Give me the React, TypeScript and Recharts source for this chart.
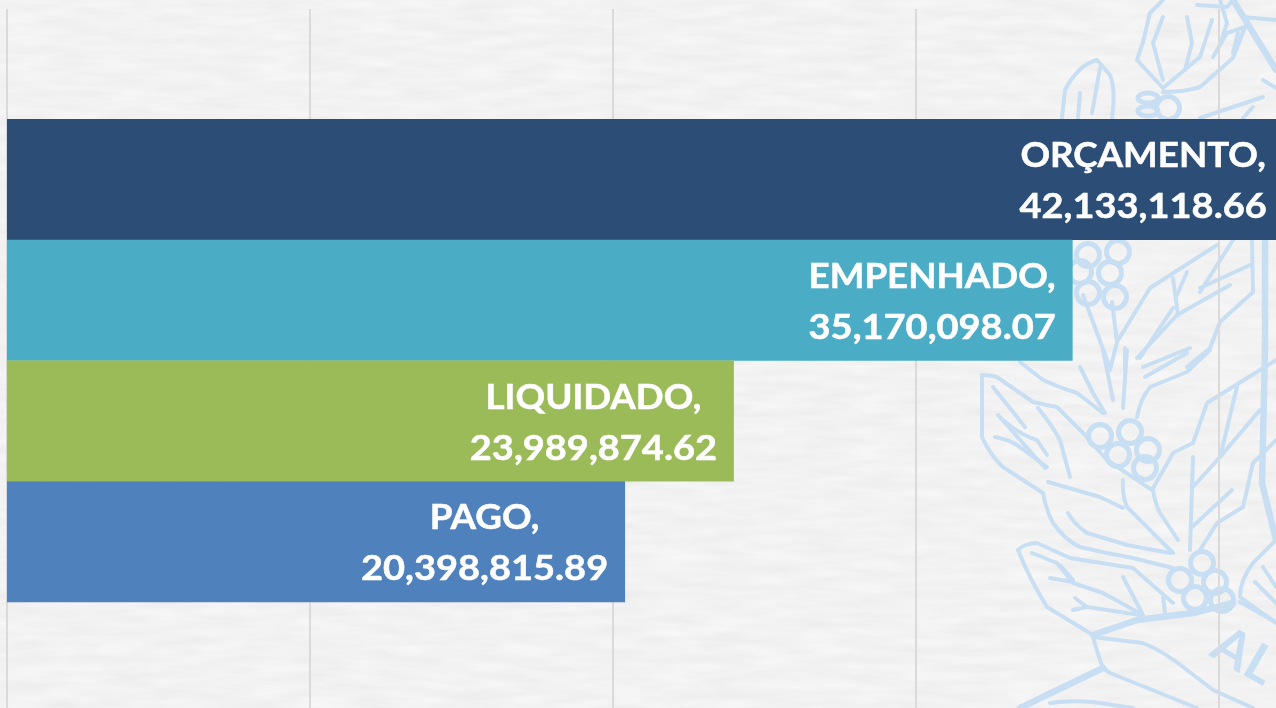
import React from "react";
import { BarChart, Bar, XAxis, YAxis, CartesianGrid, Cell, LabelList } from "recharts";

const categories = ["ORÇAMENTO,", "EMPENHADO,", "LIQUIDADO,", "PAGO,"];
const values = [42133118.66, 35170098.07, 23989874.62, 20398815.89];
const barColors = ["#2c4d75", "#4bacc6", "#9bbb59", "#4f81bd"];
const valueTicks = [0, 10000000, 20000000, 30000000, 40000000, 50000000];

const data = categories.map((name, i) => ({ name, value: values[i] }));

const fmt = (v: number) =>
  v.toLocaleString("en-US", { minimumFractionDigits: 2, maximumFractionDigits: 2 });

// Decorative background watermark (coffee branch emblem), not chart data.
const thin = [
  "M982 375 Q990 375 997 377 L1033 402 Q1045 405 1057 407 L1083 433 L1107 460 L1152 490",
  "M982 375 L982 437 Q990 455 1003 467 L1043 493 Q1046 510 1053 523 Q1065 540 1080 547 Q1105 553 1133 558 L1173 568",
  "M993 387 L1025 427", "M998 415 L1045 468", "M995 437 Q1010 440 1017 445 L1047 467",
  "M1038 408 Q1052 425 1060 440 L1070 477", "M1003 420 Q1020 435 1037 440 L1047 455",
  "M1020 362 L1043 380 Q1060 388 1077 393 L1103 413", "M1080 367 L1093 393 L1105 413",
  "M1103 350 L1113 400", "M1127 350 L1123 408",
  "M1137 417 Q1140 400 1150 387 L1187 372 L1210 350", "M1145 377 L1187 353",
  "M1123 480 Q1122 495 1127 507 L1173 553", "M1153 490 Q1155 503 1160 513 L1178 540",
  "M1048 482 L1100 497 L1123 508", "M1068 513 Q1075 525 1087 533 L1127 545 L1170 553",
  "M1152 490 L1173 453 L1193 443 L1207 403 L1260 370 L1276 360",
  "M1193 457 L1190 550", "M1192 527 L1232 490", "M1193 487 L1220 457 L1260 410", "M1220 457 L1237 387",
  "M1200 550 L1217 523 L1243 507 L1253 463 L1276 440",
  "M1276 540 L1253 563 Q1240 580 1240 597 L1276 623",
  "M1263 567 L1276 587", "M1255 582 L1276 603",
  "M1018 550 Q1025 543 1037 543 L1070 558 L1133 568 L1173 603",
  "M1018 550 Q1030 580 1047 607 L1093 635",
  "M1032 553 L1057 563 L1073 583 L1103 593 L1143 615",
  "M1060 565 L1073 580", "M1050 578 L1073 582", "M1123 577 L1142 613",
  "M1075 598 L1087 607 L1140 615", "M1073 610 L1087 607", "M1163 597 L1165 613",
  "M1093 637 Q1098 655 1103 668 L1110 673 L1197 708",
  "M1093 637 L1143 643 Q1165 652 1187 670 L1213 690 L1253 708",
  "M1050 703 Q1070 700 1093 702 L1133 708", "M1240 602 L1277 623",
  "M1062 118 L1065 90 Q1078 65 1097 60 L1110 75 Q1116 90 1112 118",
  "M1080 93 L1078 118", "M1100 68 L1092 113",
  "M1163 88 L1137 60 L1143 42 L1150 13 L1163 0",
  "M1163 17 L1153 43 L1163 80", "M1187 17 L1192 43 L1185 70", "M1212 20 L1200 57 L1163 88",
  "M1220 0 L1227 23 L1220 45",
  "M1163 92 Q1185 92 1200 87 L1233 58 L1245 27 L1227 33 L1213 57", "M1238 33 L1233 53",
  "M1197 5 L1227 7 L1233 0", "M1243 17 L1276 20", "M1263 80 L1276 88",
  "M1200 118 L1263 97", "M1243 118 L1253 107",
  "M1112 302 L1117 342 L1150 288 L1217 245", "M1083 295 L1110 368", "M1117 342 L1110 370",
  "M1125 348 L1125 370", "M1173 278 L1178 315", "M1187 272 L1177 295",
  "M1140 358 L1157 332 L1173 308", "M1137 358 L1177 315 L1230 285", "M1200 292 L1233 240",
  "M1200 288 L1250 265", "M1252 240 L1253 292 L1220 322 L1210 348 L1187 367",
  "M1143 367 L1190 348",
];
const thick = [
  "M1265 240 L1265 350 L1262 483 L1276 540", "M1093 635 L1137 620 L1193 613 L1233 603",
  "M1103 668 L1020 708", "M1233 0 L1276 70",
];
const berries = [
  [1100, 436], [1130, 432], [1118, 455], [1148, 450], [1145, 468],
  [1180, 580], [1202, 563], [1215, 582], [1195, 598], [1222, 600],
  [1088, 255], [1118, 252], [1110, 273], [1080, 272], [1088, 293], [1115, 297],
  [1168, 108],
];

const WM = "#c8dff3";

function Background() {
  return (
    <svg width={1276} height={708} style={{ position: "absolute", left: 0, top: 0 }}>
      <defs>
        <filter id="paper" x="0" y="0" width="100%" height="100%" colorInterpolationFilters="sRGB">
          <feTurbulence type="fractalNoise" baseFrequency="0.02 0.11" numOctaves={5} seed={7} />
          <feColorMatrix values="0.055 0 0 0 0.922  0.055 0 0 0 0.922  0.055 0 0 0 0.922  0 0 0 0 1" />
        </filter>
        <filter id="soft" x="0" y="0" width="100%" height="100%" filterUnits="userSpaceOnUse">
          <feGaussianBlur stdDeviation="0.6" />
        </filter>
      </defs>
      <rect width={1276} height={708} fill="#f2f2f2" filter="url(#paper)" />
      <g filter="url(#soft)">
        <g fill="none" stroke={WM} strokeLinecap="round" strokeLinejoin="round">
          {thin.map((d, i) => (
            <path key={i} d={d} strokeWidth={4} />
          ))}
          {thick.map((d, i) => (
            <path key={i} d={d} strokeWidth={6.5} />
          ))}
          {berries.map(([cx, cy], i) => (
            <circle key={i} cx={cx} cy={cy} r={11.5} strokeWidth={5} />
          ))}
          <ellipse cx={1148} cy={98} rx={10} ry={5} strokeWidth={5} />
          <ellipse cx={1148} cy={111} rx={10} ry={5} strokeWidth={5} />
        </g>
        <text fontFamily="Lato" fontWeight={700} fontSize={52} fill={WM} transform="translate(1208 655) rotate(30)">
          A
        </text>
        <text fontFamily="Lato" fontWeight={700} fontSize={52} fill={WM} transform="translate(1240 673) rotate(30)">
          L
        </text>
      </g>
    </svg>
  );
}

const BarLabel = (props: any) => {
  const { x, y, width, index, value } = props;
  const cx = x + width - 140.5;
  const common = {
    textAnchor: "middle" as const,
    fill: "#ffffff",
    stroke: "#ffffff",
    strokeWidth: 0.5,
    fontFamily: "Lato",
    fontWeight: 700,
    fontSize: 34,
  };
  return (
    <g>
      <text {...common} transform={`translate(${cx} ${y + 48}) scale(1.08 1)`}>
        {categories[index]}
      </text>
      <text {...common} transform={`translate(${cx} ${y + 99}) scale(1.118 1)`}>
        {fmt(value)}
      </text>
    </g>
  );
};

export default function App() {
  return (
    <div style={{ position: "fixed", left: 0, top: 0, width: 1276, height: 708, overflow: "hidden" }}>
      <Background />
      <div style={{ position: "absolute", left: 0, top: 0 }}>
        <BarChart
          width={1522}
          height={712}
          data={data}
          layout="vertical"
          barCategoryGap={0}
          margin={{ top: 9, right: 0, bottom: 0, left: 7 }}
        >
          <CartesianGrid horizontal={false} stroke="#dadada" strokeWidth={2} />
          <XAxis type="number" hide domain={[0, 50000000]} ticks={valueTicks} />
          <YAxis
            type="category"
            dataKey="name"
            hide
            width={0}
            padding={{ top: 110, bottom: 110 }}
          />
          <Bar dataKey="value" isAnimationActive={false}>
            {data.map((d, i) => (
              <Cell key={d.name} fill={barColors[i]} />
            ))}
            <LabelList dataKey="value" content={BarLabel} />
          </Bar>
        </BarChart>
      </div>
    </div>
  );
}
